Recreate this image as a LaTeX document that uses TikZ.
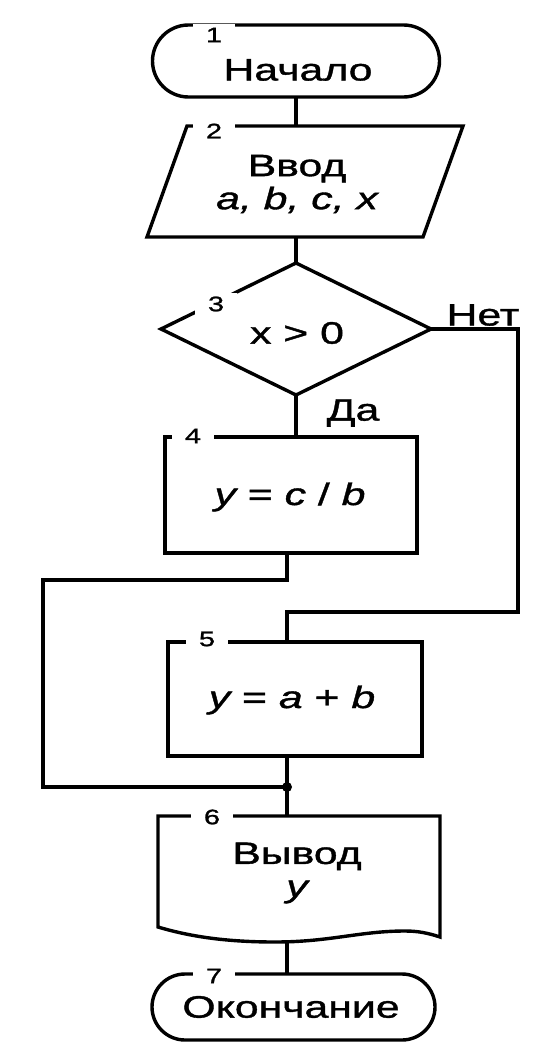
\documentclass[tikz,border=0pt]{standalone}
\usepackage{fontspec}
\setmainfont{Liberation Sans}[FakeStretch=1.38,FakeBold=1.2]
\begin{document}
\begin{tikzpicture}[x=1pt,y=-1pt,line width=3.4pt,line join=miter,
  shp/.style={draw,inner sep=0pt,outer sep=0pt},
  box/.style={inner sep=0pt,outer sep=0pt},
  txt/.style={inner sep=0pt,font=\fontsize{31}{33}\selectfont,align=center},
  num/.style={fill=white,inner sep=0pt,minimum width=42pt,minimum height=22pt,font=\fontsize{21}{21}\selectfont}]
\fill[white] (0,0) rectangle (536,1046);
\useasboundingbox (0,0) rectangle (536,1046);

% blocks
\node[shp,rounded corners=36pt,minimum width=287pt,minimum height=72pt] (s1) at (296,61) {};
\node[box,minimum width=316pt,minimum height=111pt] (s2) at (305,181.5) {};
\draw ([xshift=40pt]s2.north west) -- (s2.north east) -- ([xshift=-40pt]s2.south east) -- (s2.south west) -- cycle;
\node[box,minimum width=270pt,minimum height=132pt] (s3) at (296,329) {};
\draw (s3.north) -- (s3.east) -- (s3.south) -- (s3.west) -- cycle;
\node[shp,minimum width=252pt,minimum height=116pt] (s4) at (291,495) {};
\node[shp,minimum width=254pt,minimum height=114pt] (s5) at (295,699) {};
\node[box,minimum width=282pt,minimum height=126pt] (s6) at (299,879) {};
\draw (158,927) -- (158,816) -- (440,816) -- (440,937)
  .. controls (428,933) and (418,931) .. (405,931)
  .. controls (360,931) and (330,942) .. (275,942)
  .. controls (220,942) and (185,935) .. (158,927) -- cycle;
\node[shp,rounded corners=33pt,minimum width=283pt,minimum height=66pt] (s7) at (293.5,1007) {};

% coordinates for connector bends
\coordinate (j) at (287,787);
\coordinate (lft) at (43,580);
\coordinate (rgt) at (518,612);

% connectors
\draw (s1.south) -- (s1.south |- s2.north);
\draw (s2.south -| s3.north) -- (s3.north);
\draw (s3.south) -- (s3.south |- s4.north);
\draw (s3.east) -| (rgt) -| (s5.north -| j);
\draw (s4.south -| j) |- (lft) |- (j);
\draw (s5.south -| j) -- (s6.north -| j);
\fill (j) circle (5pt);
\draw (s6.south -| j) -- (s7.north -| j);

% numbers
\node[num] (k1) at (214,35) {1};
\node[num] (k2) at (214,131) {2};
\node[num] (k3) at (216,304) {3};
\node[num] (k4) at (193,436) {4};
\node[num] (k5) at (207,639) {5};
\node[num] (k6) at (212,817) {6};
\node[num] (k7) at (214,976) {7};

% texts
\node[txt] (t1) at (298,70) {Начало};
\node[txt] (t2) at (297,184) {Ввод\\\itshape a, b, c, x};
\node[txt] (t3) at (297,333) {x > 0};
\node[txt] (t4) at (290,497) {\itshape y\upshape{} = \itshape c\upshape{} / \itshape b};
\node[txt] (t5) at (292,700) {\itshape y\upshape{} = \itshape a\upshape{} + \itshape b};
\node[txt] (t6) at (297,873) {Вывод\\\itshape y};
\node[txt] (t7) at (291,1007) {Окончание};
\node[txt] (no) at (483,315) {Нет};
\node[txt] (yes) at (353,413) {Да};
\end{tikzpicture}
\end{document}
